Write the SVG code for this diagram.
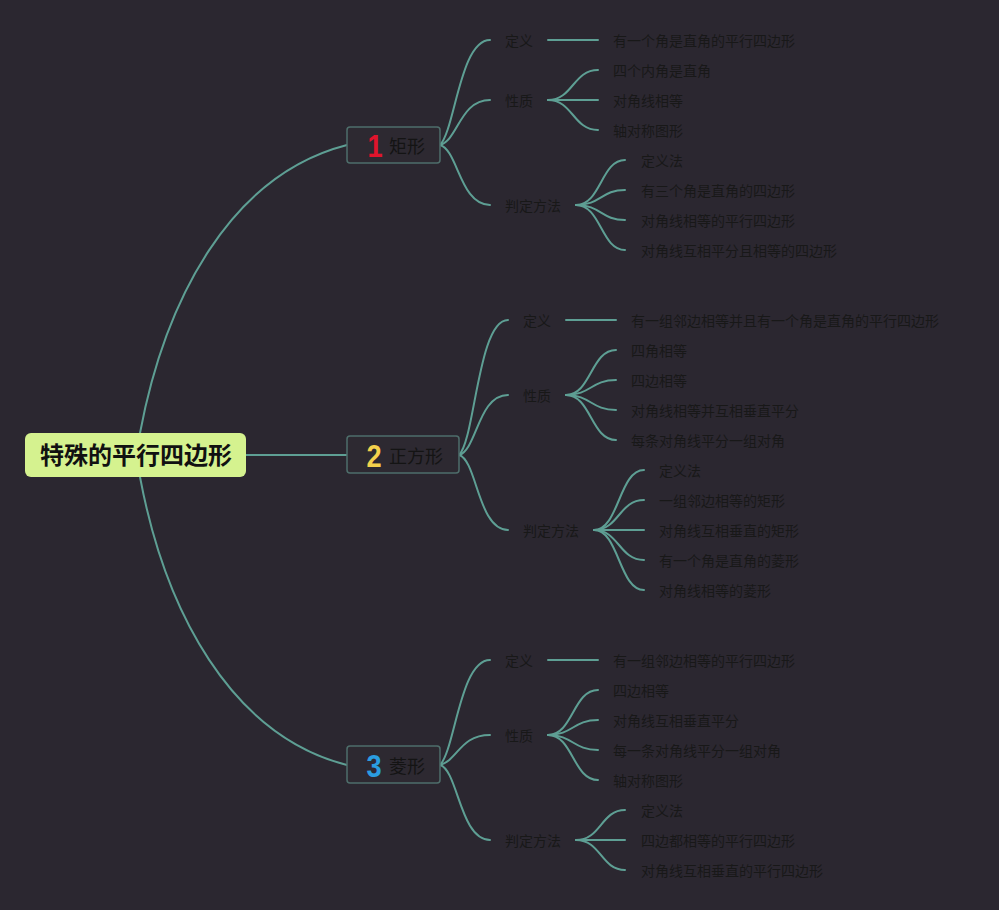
<svg xmlns="http://www.w3.org/2000/svg" width="999" height="910" viewBox="0 0 999 910">
<style>
.bg{fill:#2b2730}
.ln{fill:none;stroke:#5e9f94;stroke-width:2;stroke-linecap:round}
.t{font-family:"Noto Sans CJK SC","Liberation Sans",sans-serif;font-size:14px;fill:#181818}
.bt{font-family:"Noto Sans CJK SC","Liberation Sans",sans-serif;font-size:18px;fill:#141414}
.num{font-family:"Liberation Sans","Noto Sans",sans-serif;font-size:32px;font-weight:bold;text-anchor:middle}
.box{fill:#2d2931;stroke:#4e6e6b;stroke-width:1.5}
.root{fill:#d5f28f}
.rt{font-family:"Noto Sans CJK SC","Liberation Sans",sans-serif;font-size:24px;font-weight:bold;fill:#111}
</style>
<rect class="bg" x="0" y="0" width="999" height="910"/>
<g id="connectors">
<path class="ln" d="M140 433 C165 300 230 175 347 145"/>
<path class="ln" d="M246 455 L347 455"/>
<path class="ln" d="M140 477 C165 610 230 735 347 765"/>
<path class="ln" d="M440 145 C455 130 460 40 490 40"/>
<path class="ln" d="M440 145 C458 140 460 100 490 100"/>
<path class="ln" d="M440 145 C458 150 460 205 490 205"/>
<path class="ln" d="M548 40 L598 40"/>
<path class="ln" d="M548 100 C573 100 573 70 598 70"/>
<path class="ln" d="M548 100 L598 100"/>
<path class="ln" d="M548 100 C573 100 573 130 598 130"/>
<path class="ln" d="M576 205 C601 205 601 160 625 160"/>
<path class="ln" d="M576 205 C601 205 601 190 625 190"/>
<path class="ln" d="M576 205 C601 205 601 220 625 220"/>
<path class="ln" d="M576 205 C601 205 601 250 625 250"/>
<path class="ln" d="M459 455 C475 440 478 320 508 320"/>
<path class="ln" d="M459 455 C477 450 478 395 508 395"/>
<path class="ln" d="M459 455 C477 460 478 530 508 530"/>
<path class="ln" d="M566 320 L616 320"/>
<path class="ln" d="M566 395 C591 395 591 350 616 350"/>
<path class="ln" d="M566 395 C591 395 591 380 616 380"/>
<path class="ln" d="M566 395 C591 395 591 410 616 410"/>
<path class="ln" d="M566 395 C591 395 591 440 616 440"/>
<path class="ln" d="M594 530 C619 530 619 470 644 470"/>
<path class="ln" d="M594 530 C619 530 619 500 644 500"/>
<path class="ln" d="M594 530 L644 530"/>
<path class="ln" d="M594 530 C619 530 619 560 644 560"/>
<path class="ln" d="M594 530 C619 530 619 590 644 590"/>
<path class="ln" d="M440 765 C455 750 460 660 490 660"/>
<path class="ln" d="M440 765 C458 760 460 735 490 735"/>
<path class="ln" d="M440 765 C458 770 460 840 490 840"/>
<path class="ln" d="M548 660 L598 660"/>
<path class="ln" d="M548 735 C573 735 573 690 598 690"/>
<path class="ln" d="M548 735 C573 735 573 720 598 720"/>
<path class="ln" d="M548 735 C573 735 573 750 598 750"/>
<path class="ln" d="M548 735 C573 735 573 780 598 780"/>
<path class="ln" d="M576 840 C601 840 601 810 625 810"/>
<path class="ln" d="M576 840 L625 840"/>
<path class="ln" d="M576 840 C601 840 601 870 625 870"/>
</g>
<g id="root">
<rect class="root" x="25" y="433" width="221" height="44" rx="6"/>
<text class="rt" x="40" y="464">特殊的平行四边形</text>
</g>
<g id="n1">
<rect class="box" x="347" y="127" width="93" height="36" rx="3"/>
<text class="num" x="375" y="157" fill="#e0142c" transform="translate(375 0) scale(0.85 1) translate(-375 0)">1</text>
<text class="bt" x="389" y="153">矩形</text>
</g>
<g id="n2">
<rect class="box" x="347" y="436" width="112" height="37" rx="3"/>
<text class="num" x="374" y="467" fill="#f4d14c" transform="translate(374 0) scale(0.85 1) translate(-374 0)">2</text>
<text class="bt" x="389" y="463">正方形</text>
</g>
<g id="n3">
<rect class="box" x="347" y="746" width="93" height="37" rx="3"/>
<text class="num" x="374" y="777" fill="#2a9de0" transform="translate(374 0) scale(0.85 1) translate(-374 0)">3</text>
<text class="bt" x="389" y="773">菱形</text>
</g>
<g id="n1c">
<text class="t" x="505" y="46">定义</text>
<text class="t" x="613" y="46">有一个角是直角的平行四边形</text>
<text class="t" x="505" y="106">性质</text>
<text class="t" x="613" y="76">四个内角是直角</text>
<text class="t" x="613" y="106">对角线相等</text>
<text class="t" x="613" y="136">轴对称图形</text>
<text class="t" x="505" y="211">判定方法</text>
<text class="t" x="641" y="166">定义法</text>
<text class="t" x="641" y="196">有三个角是直角的四边形</text>
<text class="t" x="641" y="226">对角线相等的平行四边形</text>
<text class="t" x="641" y="256">对角线互相平分且相等的四边形</text>
</g>
<g id="n2c">
<text class="t" x="523" y="326">定义</text>
<text class="t" x="631" y="326">有一组邻边相等并且有一个角是直角的平行四边形</text>
<text class="t" x="523" y="401">性质</text>
<text class="t" x="631" y="356">四角相等</text>
<text class="t" x="631" y="386">四边相等</text>
<text class="t" x="631" y="416">对角线相等并互相垂直平分</text>
<text class="t" x="631" y="446">每条对角线平分一组对角</text>
<text class="t" x="523" y="536">判定方法</text>
<text class="t" x="659" y="476">定义法</text>
<text class="t" x="659" y="506">一组邻边相等的矩形</text>
<text class="t" x="659" y="536">对角线互相垂直的矩形</text>
<text class="t" x="659" y="566">有一个角是直角的菱形</text>
<text class="t" x="659" y="596">对角线相等的菱形</text>
</g>
<g id="n3c">
<text class="t" x="505" y="666">定义</text>
<text class="t" x="613" y="666">有一组邻边相等的平行四边形</text>
<text class="t" x="505" y="741">性质</text>
<text class="t" x="613" y="696">四边相等</text>
<text class="t" x="613" y="726">对角线互相垂直平分</text>
<text class="t" x="613" y="756">每一条对角线平分一组对角</text>
<text class="t" x="613" y="786">轴对称图形</text>
<text class="t" x="505" y="846">判定方法</text>
<text class="t" x="641" y="816">定义法</text>
<text class="t" x="641" y="846">四边都相等的平行四边形</text>
<text class="t" x="641" y="876">对角线互相垂直的平行四边形</text>
</g>
</svg>
